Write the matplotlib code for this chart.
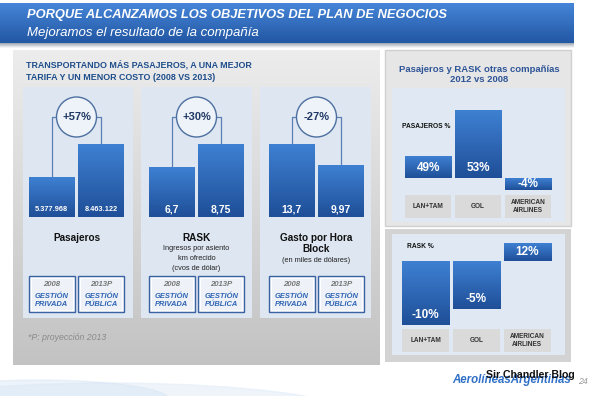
import numpy as np
import matplotlib
matplotlib.use("Agg")
import matplotlib.pyplot as plt
from matplotlib.patches import Rectangle, Circle, Ellipse
from matplotlib.colors import LinearSegmentedColormap

# --- datos ---
paneles = ["Pasajeros", "RASK", "Gasto por Hora\nBlock"]
subtitulos = ["", "Ingresos por asiento\nkm ofrecido\n(cvos de dólar)", "(en miles de dólares)"]
pasajeros = [5377968, 8463122]
rask = [6.7, 8.75]
gasto = [13.7, 9.97]
etiq_pasajeros = ["5.377.968", "8.463.122"]
etiq_rask = ["6,7", "8,75"]
etiq_gasto = ["13,7", "9,97"]
variaciones = ["+57%", "+30%", "-27%"]
pisos = [1.64e6, 2.25, 0.74]   # el eje de cada panel no arranca en cero
periodos = ["2008", "2013P"]
gestion = ["GESTIÓN\nPRIVADA", "GESTIÓN\nPÚBLICA"]

companias = ["LAN+TAM", "GOL", "AMERICAN\nAIRLINES"]
pas_pct = ["49%", "53%", "-4%"]
pas_alto = [22, 68, -12]       # altura dibujada en la lamina (no proporcional)
rask_pct = ["-10%", "-5%", "12%"]
rask_alto = [-64, -48, 18]

W, H = 590, 396
FONT = "Liberation Sans"
AZUL_OSC = "#1f4e8c"
AZUL_TIT = "#2f5597"
AZUL_BOX = "#3b63a3"
GRIS_TXT = "#777777"

plt.rcParams["font.family"] = FONT

fig = plt.figure(figsize=(W / 100, H / 100), dpi=100)
fig.patch.set_facecolor("white")
bg = fig.add_axes([0, 0, 1, 1])
bg.set_xlim(0, W)
bg.set_ylim(H, 0)
bg.axis("off")


def degradado(ax, x0, y0, x1, y1, c_arr, c_abj, z, clip=None, invert=True):
    cmap = LinearSegmentedColormap.from_list("g", [c_arr, c_abj])
    arr = np.linspace(0, 1, 64).reshape(-1, 1)
    ext = (x0, x1, y1, y0) if invert else (x0, x1, y0, y1)
    im = ax.imshow(arr, cmap=cmap, extent=ext, aspect="auto", zorder=z,
                   interpolation="bicubic")
    if clip is not None:
        im.set_clip_path(clip)
    return im


def px_axes(x0, y0, x1, y1):
    ax = fig.add_axes([x0 / W, 1 - y1 / H, (x1 - x0) / W, (y1 - y0) / H])
    ax.axis("off")
    return ax


def a_px(ax, x, y):
    d = ax.transData.transform((x, y))
    return bg.transData.inverted().transform(d)


# fondo inferior (ondas celestes suaves)
bg.add_patch(Ellipse((110, 418), 500, 70, color="#e3edf8", alpha=0.6, zorder=0))
bg.add_patch(Ellipse((40, 400), 260, 40, color="#d3e3f3", alpha=0.4, zorder=0))

# cabecera
degradado(bg, 0, 3, 574, 43, "#4685d8", "#2257a3", 1)
degradado(bg, 0, 43, 574, 48, "#9aa3ad", "#ffffff", 1)
bg.text(27, 15, "PORQUE ALCANZAMOS LOS OBJETIVOS DEL PLAN DE NEGOCIOS",
        color="white", fontsize=9.3, fontweight="bold", style="italic",
        va="center", ha="left", zorder=3)
bg.text(27, 33, "Mejoramos el resultado de la compañía", color="white",
        fontsize=9.5, style="italic", va="center", ha="left", zorder=3)

# panel izquierdo
degradado(bg, 13, 50, 380, 365, "#ececec", "#c3c3c3", 1)
bg.text(26, 65, "TRANSPORTANDO MÁS PASAJEROS, A UNA MEJOR", color=AZUL_OSC,
        fontsize=6.4, fontweight="bold", va="center", ha="left", zorder=3)
bg.text(26, 78, "TARIFA Y UN MENOR COSTO (2008 VS 2013)", color=AZUL_OSC,
        fontsize=6.4, fontweight="bold", va="center", ha="left", zorder=3)
bg.text(28, 337, "*P: proyección 2013", color="#8a8a8a", fontsize=6.3,
        style="italic", va="center", ha="left", zorder=3)

series = [pasajeros, rask, gasto]
etiquetas = [etiq_pasajeros, etiq_rask, etiq_gasto]
sub_x = [(23, 133), (141, 252), (260, 371)]
bar_x = [(29, 124), (149, 244), (269, 364)]

for k in range(3):
    sx0, sx1 = sub_x[k]
    bg.add_patch(Rectangle((sx0, 87), sx1 - sx0, 231, fc="#dde6f1", ec="none", zorder=2))
    bx0, bx1 = bar_x[k]
    ax = px_axes(bx0, 144, bx1, 217)
    vals = series[k]
    barras = ax.bar([0, 1], vals, width=0.92, color="#2d63b2", zorder=2)
    ax.set_xlim(-0.46, 1.46)
    ax.set_ylim(pisos[k], max(vals))
    for p in barras:
        x, y, w, h = p.get_x(), p.get_y(), p.get_width(), p.get_height()
        degradado(ax, x, max(y, pisos[k]), x + w, y + h, "#3e80d2", "#1f4f98",
                  3, clip=p, invert=False)
    ax.set_xlim(-0.46, 1.46)
    ax.set_ylim(pisos[k], max(vals))
    for i, s in enumerate(etiquetas[k]):
        ax.text(i, 0.1, s, transform=ax.get_xaxis_transform(), color="white",
                fontsize=5.3 if len(s) > 5 else 7.5, fontweight="bold",
                ha="center", va="center", zorder=4)

    # conectores y circulo de variacion
    tops = [a_px(ax, i, v) for i, v in enumerate(vals)]
    edges = [(a_px(ax, i - 0.46, 0)[0], a_px(ax, i + 0.46, 0)[0]) for i in range(2)]
    cx = (tops[0][0] + tops[1][0]) / 2
    cy, r = 117, 20
    for j, (tx, ty) in enumerate(tops):
        ex = cx - r if j == 0 else cx + r
        bg.plot([tx, tx, ex], [ty, cy, cy], color="#5b7fb5", lw=0.9, zorder=3)
    bg.add_patch(Circle((cx, cy), r, fc="#eef3f9", ec="#4d6fa0", lw=1.0, zorder=4))
    bg.text(cx, cy, variaciones[k], color="#1f3864", fontsize=8,
            fontweight="bold", ha="center", va="center", zorder=5)

    # nombre del indicador
    mx = (bx0 + bx1) / 2
    y = 238
    for linea in paneles[k].split("\n"):
        bg.text(mx, y, linea, fontsize=7.2, fontweight="bold", color="#111111",
                ha="center", va="center", zorder=3)
        y += 11
    if subtitulos[k]:
        for linea in subtitulos[k].split("\n"):
            bg.text(mx, y, linea, fontsize=5.3, color="#222222", ha="center",
                    va="center", zorder=3)
            y += 10

    # cajas de periodo
    for j, (e0, e1) in enumerate(edges):
        bg.add_patch(Rectangle((e0, 276), e1 - e0, 36, fc="#eef2f8", ec=AZUL_BOX,
                               lw=1.0, zorder=3))
        bg.add_patch(Rectangle((e0 + 1.8, 277.8), e1 - e0 - 3.6, 32.4, fc="none",
                               ec="white", lw=0.8, zorder=3))
        em = (e0 + e1) / 2
        bg.text(em, 285, periodos[j], color=GRIS_TXT, fontsize=5.6,
                fontweight="bold", style="italic", ha="center", va="center", zorder=4)
        g1, g2 = gestion[j].split("\n")
        bg.text(em, 296, g1, color="#2e64b4", fontsize=5.4, fontweight="bold",
                style="italic", ha="center", va="center", zorder=4)
        bg.text(em, 304, g2, color="#2e64b4", fontsize=5.4, fontweight="bold",
                style="italic", ha="center", va="center", zorder=4)

# panel derecho
bg.add_patch(Rectangle((385, 50), 186, 176, fc="#e6e6e6", ec="#d0d0d0", lw=1, zorder=1))
bg.add_patch(Rectangle((385, 229), 186, 133, fc="#d3d3d3", ec="none", zorder=1))
bg.add_patch(Rectangle((392, 88), 173, 134, fc="#dfe8f3", ec="none", zorder=2))
bg.add_patch(Rectangle((392, 234), 173, 121, fc="#dfe8f3", ec="none", zorder=2))
bg.text(479, 70, "Pasajeros y RASK otras compañías", color=AZUL_TIT,
        fontsize=6.8, fontweight="bold", ha="center", va="center", zorder=3)
bg.text(479, 80, "2012 vs 2008", color=AZUL_TIT, fontsize=6.8,
        fontweight="bold", ha="center", va="center", zorder=3)
bg.text(402, 126, "PASAJEROS %", color="#111111", fontsize=4.8,
        fontweight="bold", ha="left", va="center", zorder=3)
bg.text(407, 246, "RASK %", color="#111111", fontsize=4.8,
        fontweight="bold", ha="left", va="center", zorder=3)

graficos = [
    (pas_alto, pas_pct, (405, 110, 551, 190), (195, 218)),
    (rask_alto, rask_pct, (402, 243, 551, 325), (329, 352)),
]
for altos, textos, (x0, y0, x1, y1), (c0, c1) in graficos:
    ax = px_axes(x0, y0, x1, y1)
    xs = np.arange(len(altos))
    barras = ax.bar(xs, altos, width=0.93, color="#2d63b2", zorder=2)
    for p in barras:
        x, y, w, h = p.get_x(), p.get_y(), p.get_width(), p.get_height()
        degradado(ax, x, min(y, y + h), x + w, max(y, y + h), "#3e80d2",
                  "#1f4f98", 3, clip=p, invert=False)
    ax.set_xlim(-0.465, len(altos) - 0.535)
    ax.set_ylim(min(altos), max(altos))
    for i, (h, s) in enumerate(zip(altos, textos)):
        low = min(0, h)
        ax.text(i, low + min(10, abs(h) / 2), s, color="white", fontsize=8.5,
                fontweight="bold", ha="center", va="center", zorder=4)
        e0 = a_px(ax, i - 0.465, 0)[0]
        e1 = a_px(ax, i + 0.465, 0)[0]
        bg.add_patch(Rectangle((e0, c0), e1 - e0, c1 - c0, fc="#dadada",
                               ec="none", zorder=3))
        bg.text((e0 + e1) / 2, (c0 + c1) / 2, companias[i], color="#333333",
                fontsize=4.7, fontweight="bold", ha="center", va="center",
                linespacing=1.3, zorder=4)

# pie (la marca de agua del blog se superpone al logo, como en el original)
bg.text(452, 380, "AerolíneasArgentinas", color="#2f6fc6", fontsize=8.3,
        fontweight="bold", style="italic", ha="left", va="center", zorder=3)
bg.text(486, 375, "Sir Chandler Blog", color="#111111", fontsize=7.6,
        fontweight="bold", ha="left", va="center", zorder=4)
bg.text(578, 381, "24", color="#999999", fontsize=6.3, style="italic",
        ha="left", va="center", zorder=3)

bg.set_xlim(0, W)
bg.set_ylim(H, 0)
fig.savefig("out.png", dpi=100)
